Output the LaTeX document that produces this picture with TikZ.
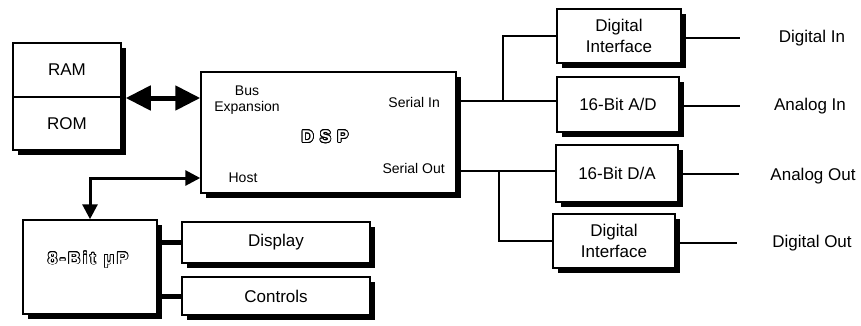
\documentclass[tikz,border=0pt]{standalone}
\usepackage{fontspec}
\setmainfont{Liberation Sans}
\usepackage{contour}
\contourlength{0.8pt}
\usetikzlibrary{arrows.meta,shadows,positioning}
% letters drawn as outlines only
\newcommand{\hollow}[1]{\contour{black}{\textcolor{white}{#1}}}
\tikzset{
  >={Triangle[length=15pt,width=15pt]},
  every picture/.style={line join=miter},
  lbl/.style={font=\fontsize{17}{21}\selectfont},
  smalllbl/.style={font=\fontsize{14}{16}\selectfont, inner sep=0pt},
  boldlbl/.style={font=\fontsize{17}{19}\selectfont\bfseries\addfontfeatures{LetterSpace=15}, inner sep=0pt},
  blk/.style={draw, line width=1.5pt, fill=white, rectangle, inner sep=0pt, lbl, align=center,
    drop shadow={shadow xshift=5pt, shadow yshift=-5pt, fill=black, opacity=1}},
  cell/.style={draw, line width=1.5pt, rectangle, inner sep=0pt, lbl},
  wire/.style={line width=2pt},
  stub/.style={line width=5pt},
  hostbus/.style={line width=3pt, <->},
  membus/.style={line width=5pt, {Triangle[length=25pt,width=24pt]}-{Triangle[length=25pt,width=24pt]}},
}

\begin{document}
\begin{tikzpicture}[x=1pt, y=-1pt]
\useasboundingbox (0,0) rectangle (861,325);
% memory
\node[blk, minimum width=108pt, minimum height=107pt] (mem) at (67,96.5) {};
\node[cell, minimum width=108pt, minimum height=54pt] (ram) at (67,70) {RAM};
\node[cell, minimum width=108pt, minimum height=53pt] (rom) at (67,123.5) {ROM};
% the DSP and its ports
\node[blk, minimum width=255pt, minimum height=121pt] (dsp) at (328.5,132.5) {};
\node[smalllbl, align=center] (busexp) at (247,100) {Bus\\Expansion};
\node[smalllbl, anchor=east] (serin) at (440,102) {Serial In};
\node[smalllbl, anchor=east] (serout) at (445,168) {Serial Out};
\node[smalllbl] (host) at (243,178) {Host};
\node[boldlbl] (dsplbl) at (325,137) {\hollow{D}\hspace{6pt}\hollow{S}\hspace{6pt}\hollow{P}};
% host side
\node[blk, minimum width=134pt, minimum height=94pt] (mup) at (90,267) {};
\node[boldlbl] (muplbl) at (88,260) {\hollow{8-Bit}\hspace{8pt}\hollow{μP}};
\node[blk, minimum width=188pt, minimum height=41pt] (disp) at (276,242.5) {Display};
\node[blk, minimum width=188pt, minimum height=38pt] (ctrl) at (276,296) {Controls};
% converters
\node[blk, minimum width=124pt, minimum height=54pt] (difin) at (619,36) {Digital\\Interface};
\node[blk, minimum width=122pt, minimum height=55pt] (adc) at (618,104.5) {16-Bit A/D};
\node[blk, minimum width=122pt, minimum height=57pt] (dac) at (617,173.5) {16-Bit D/A};
\node[blk, minimum width=122pt, minimum height=54pt] (difout) at (614,241) {Digital\\Interface};
% outside world
\node[lbl] (digin) at (812,38) {Digital In};
\node[lbl] (anin) at (810,106) {Analog In};
\node[lbl] (anout) at (813,176) {Analog Out};
\node[lbl] (digout) at (812,243) {Digital Out};
\coordinate (digin-end) at (740,38);
\coordinate (anin-end) at (740,106);
\coordinate (anout-end) at (739,174);
\coordinate (digout-end) at (737,243);
\coordinate (split-in) at (503,101);
\coordinate (split-out) at (499,171);
% buses
\draw[membus] ([xshift=4pt]mem.east |- 0,98) -- (dsp.west |- 0,98);
\draw[hostbus] (host -| dsp.west) -| (mup.north);
\draw[stub] (disp -| mup.east) -- (disp.west);
\draw[stub] (ctrl -| mup.east) -- (ctrl.west);
% serial lines
\draw[wire] (split-in -| dsp.east) -- (split-in -| adc.west);
\draw[wire] (split-in) |- (difin.west);
\draw[wire] (split-out -| dsp.east) -- (split-out -| dac.west);
\draw[wire] (split-out) |- (difout.west);
\draw[wire] (difin.east |- digin-end) -- (digin-end);
\draw[wire] (adc.east |- anin-end) -- (anin-end);
\draw[wire] (dac.east |- anout-end) -- (anout-end);
\draw[wire] (difout.east |- digout-end) -- (digout-end);
\end{tikzpicture}
\end{document}
